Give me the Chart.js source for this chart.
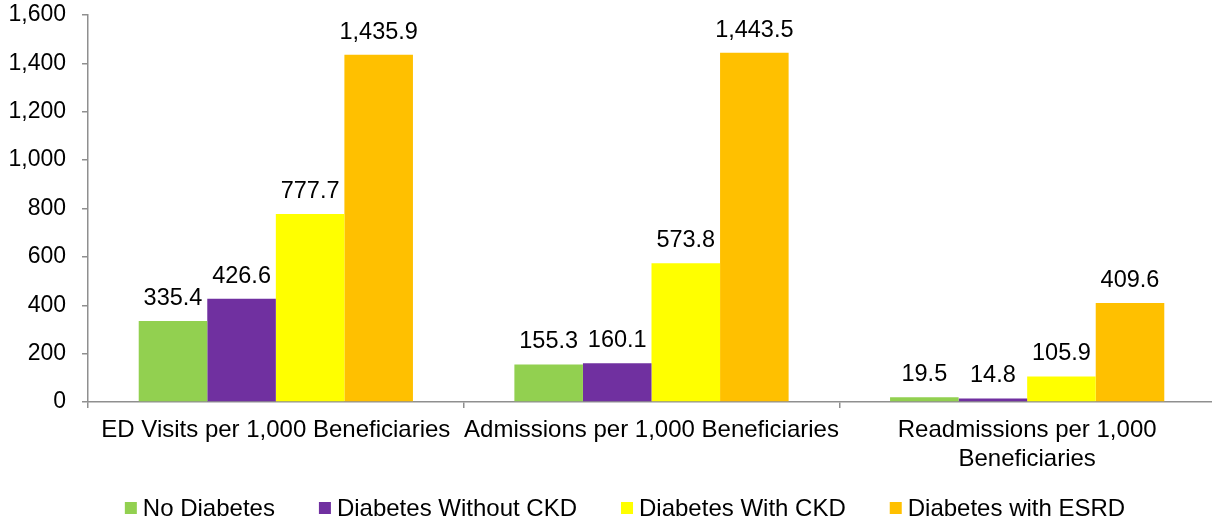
<!DOCTYPE html>
<html>
<head>
<meta charset="utf-8">
<script src="https://cdn.jsdelivr.net/npm/chart.js@4/dist/chart.umd.min.js"></script>
<style>
  html, body { margin: 0; padding: 0; background: #fff; overflow: hidden; }
  #wrap { position: relative; width: 1250px; height: 521px; }
</style>
</head>
<body>
<div id="wrap"><canvas id="chart"></canvas></div>
<script>
// Categories along the x axis (third label wraps onto two lines)
const categories = [
  'ED Visits per 1,000 Beneficiaries',
  'Admissions per 1,000 Beneficiaries',
  ['Readmissions per 1,000', 'Beneficiaries']
];

// Series names
const seriesNames = ['No Diabetes', 'Diabetes Without CKD', 'Diabetes With CKD', 'Diabetes with ESRD'];

// Rates per 1,000 beneficiaries
const noDiabetes      = [335.4, 155.3, 19.5];
const withoutCKD      = [426.6, 160.1, 14.8];
const withCKD         = [777.7, 573.8, 105.9];
const withESRD        = [1435.9, 1443.5, 409.6];

// Value axis range
const yMin = 0;
const yMax = 1600;
const yStep = 200;

const seriesColors = ['#92D050', '#7030A0', '#FFFF00', '#FFC000'];
const seriesValues = [noDiabetes, withoutCKD, withCKD, withESRD];

const FONT = '"Liberation Sans", Arial, Helvetica, sans-serif';
const AXIS_GRAY = '#8f8f8f';

const fmt1 = v => v.toLocaleString('en-US', { minimumFractionDigits: 1, maximumFractionDigits: 1 });

// Value labels drawn above each bar
const valueLabels = {
  id: 'valueLabels',
  afterDatasetsDraw(chart) {
    const ctx = chart.ctx;
    ctx.save();
    ctx.font = '23.5px ' + FONT;
    ctx.fillStyle = '#000';
    ctx.textAlign = 'center';
    ctx.textBaseline = 'alphabetic';
    chart.data.datasets.forEach((ds, di) => {
      const meta = chart.getDatasetMeta(di);
      meta.data.forEach((bar, i) => {
        ctx.fillText(fmt1(ds.data[i]), bar.x, bar.y - 16);
      });
    });
    ctx.restore();
  }
};

// Legend row under the axis: square swatch, short gap, series name
const bottomLegend = {
  id: 'bottomLegend',
  afterDraw(chart, args, opts) {
    const ctx = chart.ctx;
    const box = opts.box, gap = opts.gap, spacing = opts.spacing;
    ctx.save();
    ctx.font = opts.size + 'px ' + FONT;
    const items = chart.data.datasets.map(ds => ({
      text: ds.label, color: ds.backgroundColor, w: ctx.measureText(ds.label).width
    }));
    const total = items.reduce((s, it) => s + box + gap + it.w, 0) + spacing * (items.length - 1);
    let x = chart.width / 2 - total / 2;
    const y = chart.height - opts.fromBottom;
    ctx.textBaseline = 'middle';
    ctx.textAlign = 'left';
    items.forEach(it => {
      ctx.fillStyle = it.color;
      ctx.fillRect(x, y - box / 2, box, box);
      ctx.fillStyle = '#000';
      ctx.fillText(it.text, x + box + gap, y + 1);
      x += box + gap + it.w + spacing;
    });
    ctx.restore();
  }
};

new Chart(document.getElementById('chart'), {
  type: 'bar',
  data: {
    labels: categories,
    datasets: seriesNames.map((name, i) => ({
      label: name,
      data: seriesValues[i],
      backgroundColor: seriesColors[i],
      borderWidth: 0,
      barPercentage: 1.0,
      categoryPercentage: 0.73
    }))
  },
  options: {
    responsive: true,
    maintainAspectRatio: false,
    animation: false,
    layout: { padding: { top: 15, right: 35, bottom: 45, left: 0 } },
    plugins: {
      tooltip: { enabled: false },
      legend: { display: false },
      bottomLegend: { box: 12, gap: 6, spacing: 44, size: 24, fromBottom: 13 }
    },
    scales: {
      x: {
        offset: true,
        grid: {
          offset: true,
          drawOnChartArea: false,
          drawTicks: true,
          tickLength: 6,
          color: AXIS_GRAY,
          lineWidth: 1.5
        },
        border: { display: true, color: AXIS_GRAY, width: 1.5 },
        ticks: {
          font: { family: FONT, size: 24, lineHeight: 1.2 },
          color: '#000',
          padding: 8,
          maxRotation: 0,
          autoSkip: false
        },
        afterFit(scale) { scale.height = 74; }
      },
      y: {
        min: yMin,
        max: yMax,
        grid: {
          drawOnChartArea: false,
          drawTicks: true,
          tickLength: 6,
          color: AXIS_GRAY,
          lineWidth: 1.5
        },
        border: { display: true, color: AXIS_GRAY, width: 1.5 },
        ticks: {
          stepSize: yStep,
          font: { family: FONT, size: 23 },
          color: '#000',
          padding: 16
        },
        afterFit(scale) { scale.width = 88; scale.paddingTop = 0; scale.paddingBottom = 0; }
      }
    }
  },
  plugins: [valueLabels, bottomLegend]
});
</script>
</body>
</html>
